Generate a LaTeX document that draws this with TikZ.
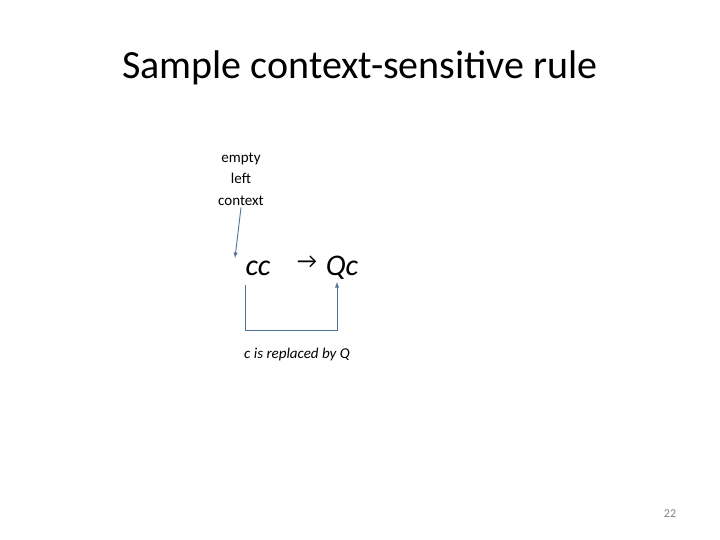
\documentclass[tikz,border=0pt]{standalone}
\usepackage{fontspec}
\setmainfont{Carlito}
\usetikzlibrary{positioning}
\definecolor{linkblue}{RGB}{79,113,150}
\begin{document}
\begin{tikzpicture}[x=1pt, y=-1pt, every node/.style={inner sep=0pt}]
\useasboundingbox (0,0) rectangle (720,540);

\node (title) at (360,68) {\fontsize{40}{44}\selectfont Sample context-sensitive rule};

\node[align=center, font=\fontsize{15}{21.5}\selectfont] (ctx) at (241,179) {empty\\left\\context};

\node (lhs) at (258,268) {\fontsize{30}{34}\selectfont\itshape cc};
\node (arr) at (307,262) {\fontsize{22}{24}\selectfont →};
\node (rhs) at (342,268) {\fontsize{30}{34}\selectfont\itshape Qc};

\node (note) at (297,354) {\fontsize{15}{18}\selectfont\itshape c is replaced by Q};
\node (page) at (670,514) {\fontsize{12}{14}\selectfont\color{gray}22};

\coordinate (ctxend) at (235,258);
\coordinate (lhsfoot) at (245,285);
\coordinate (rhsfoot) at (337,282);

\begin{scope}[draw=linkblue, line width=0.9pt]
\draw[-latex] (ctx.south) ++(0,2) -- (ctxend);
\draw[-latex] (lhsfoot) -- (245,330) -- (337,330) -- (rhsfoot);
\end{scope}

\end{tikzpicture}
\end{document}
